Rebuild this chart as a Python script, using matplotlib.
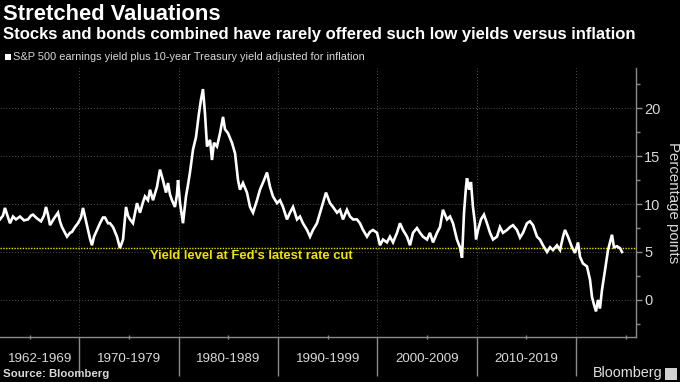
import matplotlib
matplotlib.use('Agg')
import matplotlib.pyplot as plt
from matplotlib.ticker import MultipleLocator, FixedLocator, NullFormatter
from matplotlib.patches import Rectangle

# ---- data ----
years = [1962.00, 1962.30, 1962.50, 1962.81, 1963.01, 1963.31, 1963.61, 1964.01, 1964.42, 1964.82,
         1965.12, 1965.32, 1965.73, 1966.13, 1966.43, 1966.63, 1966.83, 1967.04, 1967.44, 1967.84,
         1968.04, 1968.24, 1968.55, 1968.75, 1969.05, 1969.25, 1969.55, 1969.85, 1970.16, 1970.36,
         1970.56, 1970.76, 1971.06, 1971.26, 1971.47, 1971.77, 1972.07, 1972.37, 1972.57, 1972.88,
         1973.08, 1973.38, 1973.78, 1974.08, 1974.39, 1974.69, 1974.89, 1975.09, 1975.39, 1975.80,
         1976.10, 1976.40, 1976.60, 1976.90, 1977.11, 1977.41, 1977.81, 1978.11, 1978.41, 1978.72,
         1978.92, 1979.12, 1979.32, 1979.62, 1979.82, 1979.93, 1980.13, 1980.43, 1980.73, 1980.93,
         1981.13, 1981.44, 1981.74, 1982.04, 1982.24, 1982.44, 1982.64, 1982.85, 1983.15, 1983.35,
         1983.55, 1983.85, 1984.16, 1984.46, 1984.66, 1984.96, 1985.36, 1985.67, 1985.97, 1986.17,
         1986.47, 1986.87, 1987.18, 1987.48, 1987.88, 1988.18, 1988.59, 1988.89, 1989.19, 1989.49,
         1989.90, 1990.20, 1990.50, 1990.90, 1991.20, 1991.51, 1991.91, 1992.21, 1992.51, 1992.92,
         1993.22, 1993.52, 1993.92, 1994.23, 1994.53, 1994.83, 1995.23, 1995.53, 1995.94, 1996.24,
         1996.54, 1996.94, 1997.25, 1997.55, 1997.95, 1998.25, 1998.56, 1998.96, 1999.26, 1999.56,
         1999.97, 2000.27, 2000.57, 2000.97, 2001.27, 2001.58, 2001.98, 2002.28, 2002.58, 2002.99,
         2003.29, 2003.59, 2003.99, 2004.30, 2004.60, 2005.00, 2005.30, 2005.61, 2006.01, 2006.31,
         2006.61, 2007.02, 2007.32, 2007.62, 2008.02, 2008.32, 2008.53, 2008.73, 2008.93, 2009.03,
         2009.23, 2009.43, 2009.63, 2009.83, 2009.94, 2010.14, 2010.44, 2010.74, 2011.04, 2011.35,
         2011.65, 2012.05, 2012.35, 2012.65, 2013.06, 2013.36, 2013.66, 2014.06, 2014.37, 2014.67,
         2015.07, 2015.37, 2015.68, 2016.08, 2016.38, 2016.68, 2017.09, 2017.39, 2017.69, 2018.09,
         2018.40, 2018.70, 2018.90, 2019.20, 2019.60, 2019.91, 2020.21, 2020.41, 2020.71, 2021.11,
         2021.42, 2021.62, 2021.82, 2022.02, 2022.22, 2022.42, 2022.62, 2022.83, 2023.03, 2023.23,
         2023.43, 2023.63, 2023.83, 2024.13, 2024.44, 2024.64]

values = [8.4, 8.8, 9.6, 8.6, 8.0, 8.7, 8.4, 8.7, 8.3, 8.4,
          8.8, 8.9, 8.5, 8.2, 8.8, 9.7, 8.9, 7.8, 8.5, 9.1,
          8.2, 7.6, 7.0, 6.6, 7.0, 7.1, 7.6, 8.0, 8.6, 9.6,
          8.7, 7.8, 6.4, 5.7, 6.6, 7.3, 8.0, 8.6, 8.6, 8.0,
          8.0, 7.6, 6.6, 5.4, 6.3, 9.7, 8.8, 8.4, 8.0, 10.1,
          9.1, 10.2, 10.8, 10.4, 11.5, 10.4, 11.8, 13.6, 12.5, 11.2,
          12.2, 11.0, 10.4, 9.7, 11.0, 12.5, 10.1, 8.0, 10.8, 12.0,
          13.3, 15.7, 17.0, 19.5, 20.9, 22.0, 19.5, 16.0, 16.7, 14.6,
          16.4, 16.0, 17.4, 19.1, 17.8, 17.4, 16.4, 15.3, 12.5, 11.5,
          12.2, 11.2, 9.7, 9.1, 10.4, 11.5, 12.5, 13.3, 11.8, 10.8,
          10.1, 10.4, 9.7, 8.4, 9.1, 9.7, 8.4, 8.7, 8.0, 7.3,
          6.6, 7.3, 8.0, 9.1, 10.2, 11.2, 10.1, 9.7, 9.1, 9.4,
          8.4, 9.4, 8.7, 8.4, 8.4, 8.0, 7.3, 6.6, 7.1, 7.3,
          7.0, 5.7, 6.3, 6.0, 6.6, 6.0, 7.0, 8.0, 7.3, 6.6,
          5.7, 7.0, 7.5, 7.0, 6.6, 6.3, 7.0, 6.0, 7.0, 7.6,
          9.4, 8.4, 8.7, 8.0, 6.3, 5.5, 4.4, 9.1, 11.8, 12.7,
          11.5, 12.3, 9.7, 8.0, 6.3, 7.3, 8.4, 8.9, 8.0, 7.0,
          6.3, 6.6, 7.6, 7.0, 7.3, 7.6, 7.8, 7.3, 6.5, 7.0,
          8.0, 8.2, 7.8, 6.6, 6.3, 5.7, 5.0, 5.5, 5.2, 5.7,
          5.2, 6.6, 7.3, 6.6, 5.5, 4.9, 6.0, 4.5, 3.8, 3.5,
          2.1, 0.3, -0.5, -1.2, 0.0, -0.9, 1.0, 2.4, 3.8, 5.2,
          6.0, 6.8, 5.5, 5.6, 5.4, 5.0]

fed_cut_level = 5.4
annotation_text = "Yield level at Fed's latest rate cut"
decade_bounds = [1970, 1980, 1990, 2000, 2010, 2020]
decade_labels = ['1962-1969', '1970-1979', '1980-1989', '1990-1999', '2000-2009', '2010-2019']
decade_centers = [1966, 1975, 1985, 1995, 2005, 2015]
y_ticks = [0, 5, 10, 15, 20]

title = "Stretched Valuations"
subtitle = "Stocks and bonds combined have rarely offered such low yields versus inflation"
legend_label = "S&P 500 earnings yield plus 10-year Treasury yield adjusted for inflation"
y_label = "Percentage points"
source = "Source: Bloomberg"

# ---- figure ----
W, H = 680, 382
plt.rcParams['font.family'] = ['Liberation Sans', 'DejaVu Sans']

fig = plt.figure(figsize=(W / 100, H / 100), dpi=100, facecolor='black')
ax_left, ax_right, ax_top, ax_bottom = 0, 636, 68, 337
ax = fig.add_axes([ax_left / W, 1 - ax_bottom / H, (ax_right - ax_left) / W, (ax_bottom - ax_top) / H])
ax.set_facecolor('black')

ax.plot(years, values, color='white', lw=1.9, solid_joinstyle='miter', zorder=3)
ax.axhline(fed_cut_level, color='#e6dc00', lw=1.0, ls=(0, (1, 1)), zorder=2)
ax.text(1977.1, 4.55, annotation_text, color='#f0e400', fontweight='bold',
        fontsize=9.4, va='center', ha='left', zorder=4)

ax.set_xlim(1962, 2026.05)
ax.set_ylim(-3.87, 24.2)

for s in ['left', 'top']:
    ax.spines[s].set_visible(False)
for s in ['right', 'bottom']:
    ax.spines[s].set_color('#8a8a8a')
    ax.spines[s].set_linewidth(1.0)

ax.yaxis.tick_right()
ax.yaxis.set_major_locator(FixedLocator(y_ticks))
ax.yaxis.set_minor_locator(MultipleLocator(2.5))
ax.tick_params(axis='y', which='major', colors='#8a8a8a', labelcolor='#d8d8d8',
               labelsize=10.5, length=4, width=1, pad=2)
ax.tick_params(axis='y', which='minor', colors='#8a8a8a', length=3, width=1)

ax.xaxis.set_major_locator(FixedLocator(decade_bounds))
ax.xaxis.set_minor_locator(FixedLocator([b - 5 for b in decade_bounds] + [2025]))
ax.xaxis.set_major_formatter(NullFormatter())
ax.tick_params(axis='x', which='major', colors='#8a8a8a', length=28, width=1, direction='out')
ax.tick_params(axis='x', which='minor', colors='#8a8a8a', length=3, width=1, direction='inout')

ax.grid(True, which='major', color='#505050', lw=0.7, ls=(0, (1, 2)))

for c, lab in zip(decade_centers, decade_labels):
    ax.text(c, -0.08, lab, transform=ax.get_xaxis_transform(), ha='center', va='center',
            color='#d8d8d8', fontsize=9.6)

ax.set_ylabel(y_label, color='#d8d8d8', fontsize=10.8, rotation=270, labelpad=14)
ax.yaxis.set_label_position('right')

def ftext(x, y, s, **kw):
    fig.text(x / W, 1 - y / H, s, **kw)

ftext(3, 14, title, color='white', fontsize=15.8, fontweight='bold', va='center', ha='left')
ftext(3, 35, subtitle, color='white', fontsize=11.95, fontweight='bold', va='center', ha='left')
fig.patches.append(Rectangle((5 / W, 1 - 60 / H), 6 / W, 6 / H, transform=fig.transFigure,
                             facecolor='white', edgecolor='none'))
ftext(13, 57, legend_label, color='#d8d8d8', fontsize=7.9, va='center', ha='left')
ftext(3, 374, source, color='#d8d8d8', fontsize=8.2, fontweight='bold', va='center', ha='left')
ftext(662, 373, "Bloomberg", color='#e0e0e0', fontsize=10.4, va='center', ha='right')
fig.patches.append(Rectangle((665 / W, 1 - 380 / H), 12 / W, 12 / H, transform=fig.transFigure,
                             facecolor='#d0d0d0', edgecolor='none'))

fig.savefig('out.png', dpi=100, facecolor='black')
